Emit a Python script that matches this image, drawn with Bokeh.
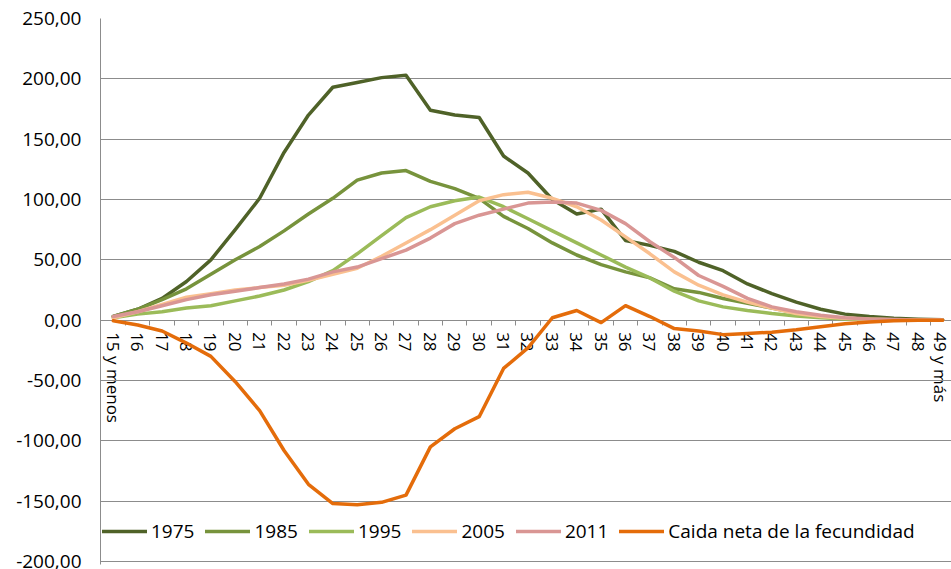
from bokeh.plotting import figure
from bokeh.models import FixedTicker, Range1d, Legend, LegendItem
from bokeh.embed import file_html
from bokeh.resources import INLINE

# ---- data -------------------------------------------------------------
ages = ["15 y menos"] + [str(a) for a in range(16, 49)] + ["49 y más"]

y1975 = [3, 9, 18, 32, 50, 75, 101, 139, 170, 193, 197, 201, 203, 174, 170, 168,
         136, 122, 100, 88, 92, 66, 62, 57, 48, 41, 30, 22, 15, 9, 5, 3, 1.5, 0.8, 0.4]
y1985 = [3, 9, 17, 26, 38, 50, 61, 74, 88, 101, 116, 122, 124, 115, 109, 101,
         86, 76, 64, 54, 46, 40, 35, 26, 23, 18, 14, 10, 6, 3, 1.5, 0.8, 0.4, 0.2, 0.1]
y1995 = [2, 5, 7, 10, 12, 16, 20, 25, 32, 41, 55, 70, 85, 94, 99, 102,
         94, 84, 74, 64, 54, 44, 35, 24, 16, 11, 8, 5.5, 3.5, 2, 1, 0.5, 0.3, 0.2, 0.1]
y2005 = [2, 7, 13, 19, 22, 25, 27, 29, 33, 38, 43, 53, 64, 75, 87, 99,
         104, 106, 101, 94, 83, 69, 55, 40, 29, 21, 15, 10, 5.5, 3, 1.5, 0.8, 0.4, 0.2, 0.1]
y2011 = [3, 7, 12, 17, 21, 24, 27, 30, 34, 40, 44, 51, 58, 68, 80, 87,
         92, 97, 98, 97, 91, 80, 65, 52, 37, 28, 18, 11, 7, 4, 2, 1, 0.5, 0.2, 0.1]
caida = [-0.5, -4, -9, -19, -30, -51, -75, -108, -136, -152, -153, -151, -145, -105, -90, -80,
         -40, -23, 2, 8, -2, 12, 3, -7, -9, -12, -11, -10, -8, -5.5, -3, -1.5, -0.5, 0, 0]

series_names = ["1975", "1985", "1995", "2005", "2011", "Caida neta de la fecundidad"]
series_values = [y1975, y1985, y1995, y2005, y2011, caida]
series_colors = ["#4F6228", "#77933C", "#9BBB59", "#FAC090", "#D99694", "#E46C0A"]

y_ticks = list(range(-200, 251, 50))

# ---- figure -----------------------------------------------------------
FONT = "Open Sans"
GRID = "#8C8C8C"

x_idx = list(range(len(ages)))

p = figure(width=951, height=569, output_backend="svg", toolbar_location=None,
           x_range=Range1d(-0.525, 34.365), y_range=Range1d(-202.5, 250),
           min_border_left=100, min_border_right=0, min_border_top=18, min_border_bottom=5)
p.outline_line_color = None
p.background_fill_color = "white"
p.border_fill_color = "white"

# grid
p.xgrid.visible = False
p.ygrid.ticker = FixedTicker(ticks=y_ticks)
p.ygrid.grid_line_color = GRID
p.ygrid.grid_line_width = 1

# y axis
ya = p.yaxis[0]
ya.ticker = FixedTicker(ticks=y_ticks)
ya.major_label_overrides = {t: f"{t:.2f}".replace(".", ",") for t in y_ticks}
ya.major_tick_out = 0
ya.major_tick_in = 0
ya.minor_tick_line_color = None
ya.axis_line_color = GRID
ya.major_label_standoff = 19
ya.major_label_text_font = FONT
ya.major_label_text_font_size = "19px"
ya.major_label_text_color = "black"

# x axis at y = 0
xa = p.xaxis[0]
xa.fixed_location = 0
xa.level = "underlay"
xa.ticker = FixedTicker(ticks=x_idx, minor_ticks=[i + 0.5 for i in x_idx[:-1]])
xa.major_label_overrides = {i: lab for i, lab in enumerate(ages)}
xa.major_label_orientation = "vertical"
xa.major_tick_line_color = None
xa.major_tick_out = 0
xa.major_tick_in = 0
xa.minor_tick_out = 5
xa.minor_tick_in = 0
xa.minor_tick_line_color = GRID
xa.axis_line_color = GRID
xa.major_label_standoff = 7
xa.major_label_text_font = FONT
xa.major_label_text_font_size = "17px"
xa.major_label_text_color = "black"

# lines
items = []
for name, vals, col in zip(series_names, series_values, series_colors):
    r = p.line(x_idx, vals, line_color=col, line_width=3.5, line_join="round", line_cap="round")
    items.append(LegendItem(label=name, renderers=[r]))

legend = Legend(items=items, orientation="horizontal", location=(2, 20),
                background_fill_alpha=0, border_line_color=None,
                label_text_font=FONT, label_text_font_size="19px", label_text_color="black",
                glyph_width=45, glyph_height=20, label_height=20, label_standoff=4,
                spacing=11, padding=0, margin=0)
p.add_layout(legend)

open("out.html", "w").write(file_html(p, INLINE))
